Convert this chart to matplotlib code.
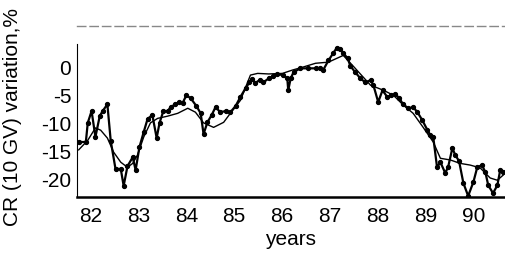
import matplotlib
matplotlib.use('Agg')
import matplotlib.pyplot as plt

plt.rcParams['font.family'] = ['Liberation Sans', 'DejaVu Sans']

# measured series (jagged, with dots)
anys = [81.75, 81.90, 81.94, 82.02, 82.10, 82.19, 82.25, 82.35, 82.42, 82.52,
        82.63, 82.69, 82.77, 82.88, 82.94, 83.02, 83.11, 83.19, 83.29, 83.38,
        83.44, 83.52, 83.61, 83.67, 83.77, 83.84, 83.92, 84.00, 84.09, 84.21,
        84.30, 84.36, 84.44, 84.53, 84.61, 84.71, 84.82, 84.92, 85.03, 85.13,
        85.24, 85.32, 85.38, 85.44, 85.53, 85.61, 85.72, 85.82, 85.90, 86.01,
        86.11, 86.13, 86.18, 86.24, 86.38, 86.55, 86.70, 86.80, 86.86, 86.97,
        87.07, 87.14, 87.22, 87.28, 87.37, 87.43, 87.53, 87.64, 87.74, 87.85,
        87.91, 88.01, 88.10, 88.20, 88.28, 88.37, 88.45, 88.53, 88.64, 88.74,
        88.83, 88.93, 89.04, 89.10, 89.16, 89.24, 89.31, 89.41, 89.47, 89.56,
        89.62, 89.70, 89.79, 89.89, 90.00, 90.08, 90.18, 90.25, 90.31, 90.41,
        90.50, 90.56, 90.62]
variacio = [-13.3, -13.3, -9.9, -7.8, -12.4, -8.7, -7.8, -6.6, -13.1, -18.1,
            -18.1, -21.1, -17.6, -16.0, -18.3, -14.2, -11.5, -9.2, -8.5, -12.6,
            -9.9, -7.8, -7.8, -7.1, -6.6, -6.2, -6.4, -5.0, -5.5, -6.9,
            -8.2, -11.9, -9.8, -8.5, -7.1, -8.0, -7.8, -8.0, -6.9, -5.3,
            -3.7, -2.7, -2.1, -2.8, -2.3, -2.7, -2.0, -1.6, -1.2, -1.4,
            -2.0, -4.1, -2.0, -0.9, -0.2, -0.2, -0.2, -0.2, -0.5, 1.2,
            2.5, 3.4, 3.2, 2.5, 1.6, 0.2, -0.9, -2.0, -2.7, -2.3,
            -3.2, -6.2, -4.1, -5.3, -5.0, -4.8, -5.5, -6.6, -7.3, -7.1,
            -8.0, -9.4, -11.2, -12.1, -12.4, -17.8, -16.9, -18.8, -17.8, -14.4,
            -15.6, -16.7, -20.6, -22.9, -20.4, -17.8, -17.4, -18.7, -21.0, -22.4,
            -21.0, -18.3, -18.7]

# smooth curve
anys_suau = [81.75, 81.94, 82.10, 82.21, 82.35, 82.48, 82.63, 82.77, 82.88, 82.98,
             83.11, 83.25, 83.40, 83.61, 83.82, 84.03, 84.19, 84.36, 84.57, 84.78,
             84.92, 85.13, 85.34, 85.49, 85.72, 86.01, 86.22, 86.43, 86.70, 86.97,
             87.28, 87.53, 87.85, 88.12, 88.33, 88.53, 88.74, 88.95, 89.16, 89.31,
             89.52, 89.72, 89.93, 90.14, 90.35, 90.50, 90.62]
variacio_suau = [-14.7, -13.0, -10.8, -11.2, -12.6, -15.1, -16.9, -17.8, -17.1, -15.6,
                 -12.4, -9.9, -9.1, -8.7, -8.2, -7.3, -8.0, -9.9, -10.7, -9.8,
                 -8.2, -5.9, -1.4, -1.1, -1.2, -1.1, -0.5, 0.0, 0.7, 0.9,
                 2.1, -0.2, -3.2, -4.1, -5.0, -6.7, -8.2, -10.7, -13.3, -16.2,
                 -16.5, -17.1, -17.4, -17.9, -19.7, -20.1, -19.2]

xticks = [82, 83, 84, 85, 86, 87, 88, 89, 90]
yticks = [0, -5, -10, -15, -20]

fig = plt.figure(figsize=(5.05, 2.54), dpi=100)
ax = fig.add_axes([0.152, 0.224, 0.848, 0.673])

ax.plot(anys_suau, variacio_suau, '-', color='black', lw=1.0)
ax.plot(anys, variacio, '-', color='black', lw=1.6,
        marker='o', markersize=2.8)

ax.set_xlim(81.71, 90.66)
ax.set_ylim(-23.1, 7.3)

ax.spines['right'].set_visible(False)
ax.spines['left'].set_bounds(-23.1, 4.1)
ax.spines['left'].set_linewidth(0.8)
ax.spines['bottom'].set_linewidth(1.8)
ax.spines['top'].set_linestyle((0, (6, 3)))
ax.spines['top'].set_color('#888888')
ax.spines['top'].set_linewidth(1.0)

ax.set_xticks(xticks)
ax.set_xticklabels([str(t) for t in xticks])
ax.set_yticks(yticks)
ax.set_yticklabels([str(t) for t in yticks])
ax.tick_params(axis='both', length=0, labelsize=15)
ax.tick_params(axis='x', pad=7)
ax.tick_params(axis='y', pad=4)

ax.set_xlabel('years', fontsize=15, labelpad=3)
ax.set_ylabel('CR (10 GV) variation,%', fontsize=15)
ax.yaxis.set_label_coords(-0.128, 0.47)

fig.savefig('out.png', dpi=100)
